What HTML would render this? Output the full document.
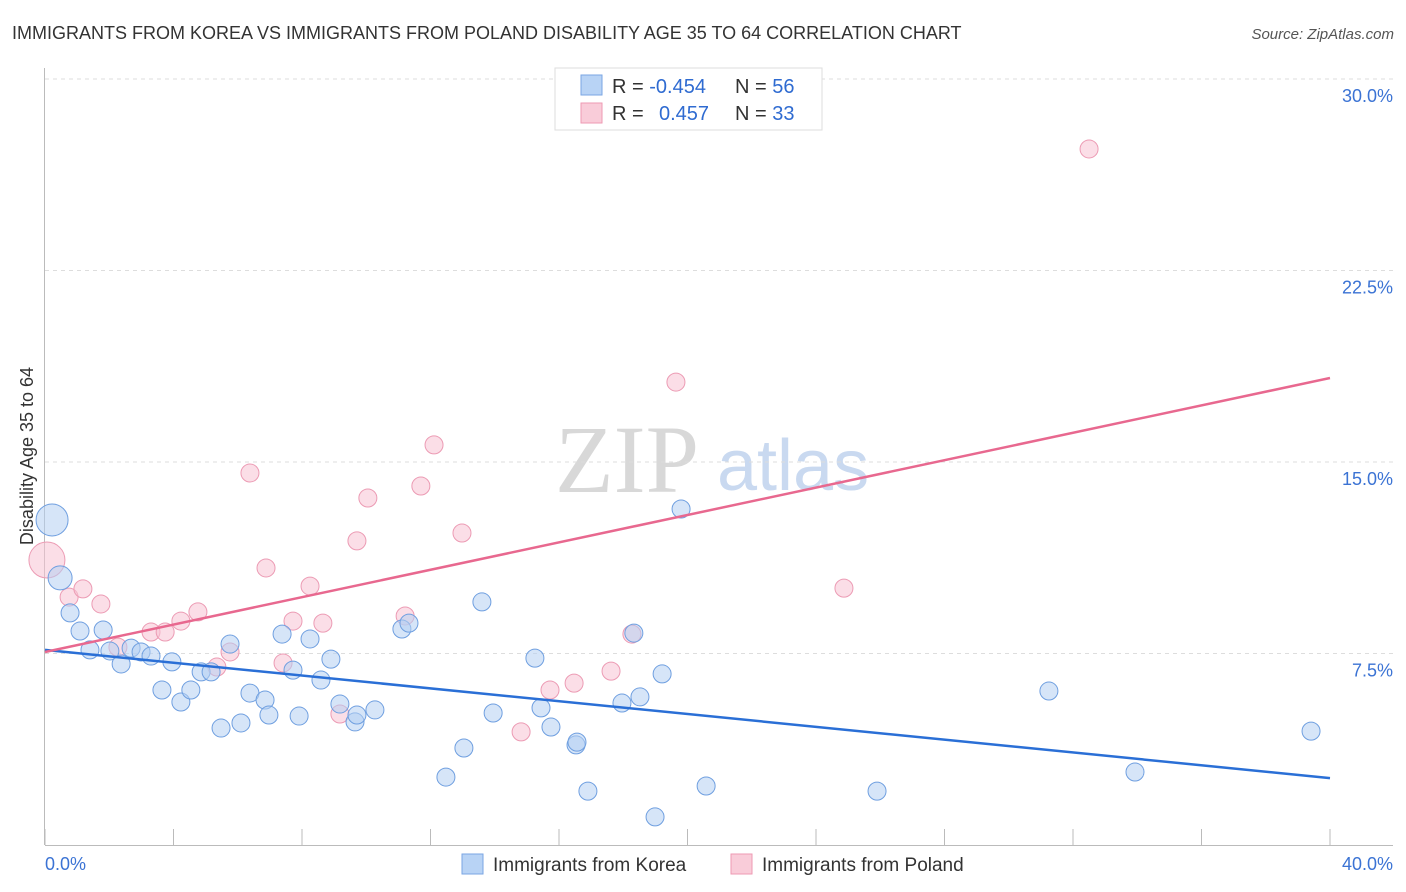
<!DOCTYPE html>
<html><head><meta charset="utf-8"><style>
body{margin:0;background:#fff;font-family:"Liberation Sans",sans-serif}
svg{display:block}
</style></head><body>
<svg id="chart" width="1406" height="892">
<text x="12" y="39" font-size="18" fill="#333">IMMIGRANTS FROM KOREA VS IMMIGRANTS FROM POLAND DISABILITY AGE 35 TO 64 CORRELATION CHART</text>
<text x="1394" y="39" font-size="15" fill="#555" font-style="italic" text-anchor="end">Source: ZipAtlas.com</text>
<text x="555" y="492" font-size="96" fill="#d8d8d8" font-family="Liberation Serif,serif">ZIP</text>
<text x="717" y="490" font-size="72" fill="#c9d9f0">atlas</text>
<g id="grid"></g>
<g id="axes"></g>
<g id="marks"></g>
<text transform="translate(33,456) rotate(-90)" font-size="18" fill="#333" text-anchor="middle">Disability Age 35 to 64</text>
<g>
<rect x="555" y="68" width="267" height="62" fill="#fff" stroke="#ddd"/>
<rect x="581" y="75" width="21" height="20" fill="#b8d3f5" stroke="#7aa6e3"/>
<rect x="581" y="103" width="21" height="20" fill="#f9ccd9" stroke="#ee9ab3"/>
<text x="612" y="93" font-size="20" fill="#333">R = <tspan fill="#2f6bd1">-0.454</tspan><tspan x="735">N = </tspan><tspan fill="#2f6bd1">56</tspan></text>
<text x="612" y="120" font-size="20" fill="#333">R = <tspan x="659" fill="#2f6bd1">0.457</tspan><tspan x="735">N = </tspan><tspan fill="#2f6bd1">33</tspan></text>
</g>
<g>
<rect x="462" y="854" width="21" height="20" fill="#b8d3f5" stroke="#7aa6e3"/>
<text x="493" y="871" font-size="19" fill="#333">Immigrants from Korea</text>
<rect x="731" y="854" width="21" height="20" fill="#f9ccd9" stroke="#ee9ab3"/>
<text x="762" y="871" font-size="19" fill="#333">Immigrants from Poland</text>
</g>
</svg>
<script>
const yTicks=[7.5,15,22.5,30];
const yTickLabels=["7.5%","15.0%","22.5%","30.0%"];
const xTicks=[0,4,8,12,16,20,24,28,32,36,40];
const xEndLabels=["0.0%","40.0%"];
const koreaX=[0.22,0.47,0.78,1.09,1.40,1.81,2.02,2.37,2.68,2.99,3.30,3.64,3.95,4.23,4.54,4.86,5.17,5.48,5.76,6.10,6.38,6.85,6.97,7.38,7.72,7.91,8.25,8.59,8.90,9.18,9.65,9.71,10.27,11.11,11.33,12.48,13.04,13.60,13.95,15.25,15.44,15.75,16.53,16.56,16.90,17.96,18.33,18.52,18.99,19.21,19.80,20.58,25.90,31.25,33.93,39.41];
const koreaY=[12.73,10.46,9.09,8.38,7.64,8.42,7.60,7.09,7.71,7.56,7.40,6.07,7.17,5.60,6.07,6.78,6.78,4.58,7.87,4.78,5.95,5.68,5.09,8.26,6.85,5.05,8.07,6.46,7.28,5.52,4.82,5.09,5.29,8.46,8.69,2.66,3.80,9.52,5.17,7.32,5.37,4.62,3.92,4.03,2.11,5.56,8.30,5.80,1.10,6.70,13.16,2.31,2.11,6.03,2.86,4.46];
const polandX=[0.06,0.75,1.18,1.74,2.27,3.30,3.74,4.23,4.76,5.35,5.76,6.38,6.88,7.41,7.72,8.25,8.65,9.18,9.71,10.05,11.21,11.70,12.11,12.98,14.82,15.72,16.47,17.62,18.27,19.64,24.87,32.50];
const polandY=[11.16,9.71,10.03,9.44,7.75,8.34,8.34,8.77,9.13,6.97,7.56,14.57,10.85,7.13,8.77,10.14,8.69,5.13,11.91,13.59,8.97,14.06,15.67,12.22,4.43,6.07,6.34,6.81,8.26,18.13,10.06,27.26];
const koreaTrend=[7.64,2.62];
const polandTrend=[7.56,18.29];
const NS="http://www.w3.org/2000/svg";
const X=v=>45+v/40*1285;
const Y=v=>845-v/7.5*191.5;
function mk(tag,attrs,parent){const e=document.createElementNS(NS,tag);for(const k in attrs)e.setAttribute(k,attrs[k]);parent.appendChild(e);return e;}
const grid=document.getElementById('grid'),axes=document.getElementById('axes'),marks=document.getElementById('marks');
yTicks.forEach((t,i)=>{
 const l=mk('line',{x1:45,x2:1393,y1:Y(t),y2:Y(t),stroke:'#ddd','stroke-dasharray':'4,4'},grid);
 
 
 const tx=mk('text',{x:1393,y:Y(t)+23,'font-size':18,fill:'#3b73d4','text-anchor':'end'},axes);
 tx.textContent=yTickLabels[i];
 
 
});
const al=mk('line',{x1:44.5,x2:44.5,y1:68,y2:845,stroke:'#bbb'},axes);


const bl=mk('line',{x1:45,x2:1393,y1:845.5,y2:845.5,stroke:'#bbb'},axes);


xTicks.forEach(t=>{
 const l=mk('line',{x1:X(t),x2:X(t),y1:829,y2:845,stroke:'#bbb'},axes);
 
 
});
const xl0=mk('text',{x:45,y:870,'font-size':18,fill:'#3b73d4'},axes);xl0.textContent=xEndLabels[0];


const xl1=mk('text',{x:1393,y:870,'font-size':18,fill:'#3b73d4','text-anchor':'end'},axes);xl1.textContent=xEndLabels[1];


function dots(xs,ys,fill,stroke,name){
 xs.forEach((x,i)=>{
  const r=i===0&&x<0.3?(name==='korea-point'?16:18):(name==='korea-point'&&i===1?12:9);
  const c=mk('circle',{cx:X(x),cy:Y(ys[i]),r:r,fill:fill,'fill-opacity':0.55,stroke:stroke,'stroke-width':1},marks);
  
  
 });
}
dots(polandX,polandY,'#f7c3d3','#ec9bb4','poland-point');
dots(koreaX,koreaY,'#b5cff2','#6f9fe0','korea-point');
const t1=mk('line',{x1:X(0),y1:Y(koreaTrend[0]),x2:X(40),y2:Y(koreaTrend[1]),stroke:'#2a6fd6','stroke-width':2.5},marks);


const t2=mk('line',{x1:X(0),y1:Y(polandTrend[0]),x2:X(40),y2:Y(polandTrend[1]),stroke:'#e8688f','stroke-width':2.5},marks);


</script>
</body></html>
